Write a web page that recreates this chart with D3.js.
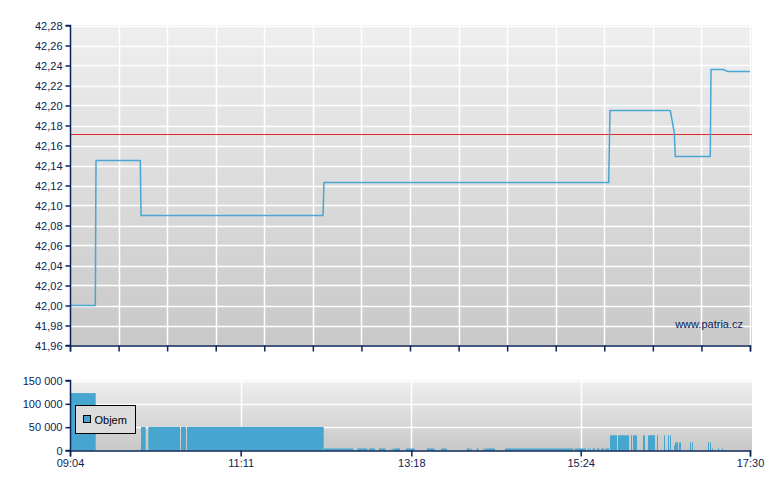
<!DOCTYPE html>
<html>
<head>
<meta charset="utf-8">
<script src="https://cdn.jsdelivr.net/npm/d3@7/dist/d3.min.js"></script>
<style>
  html, body { margin: 0; padding: 0; background: #ffffff; }
  svg { display: block; font-family: "Liberation Sans", Arial, sans-serif; }
</style>
</head>
<body>
<svg id="chart" width="780" height="490"></svg>
<script>
// ---------- DATA ----------
const priceTimes  = ["09:04:00","09:22:50","09:23:21","09:56:19","09:56:50","12:12:16","12:13:00","15:44:52","15:45:49","16:30:42","16:33:40","16:34:24","17:00:27","17:00:59","17:10:09","17:13:24","17:30:00"];
const priceValues = [42.00, 42.00, 42.145, 42.145, 42.09, 42.09, 42.123, 42.123, 42.195, 42.195, 42.173, 42.149, 42.149, 42.236, 42.236, 42.234, 42.234];
const referencePrice = 42.171;

const volStart = ["09:04:00","09:56:50","10:02:16","10:26:36","10:31:04","12:13:00","12:37:34","12:46:29","12:53:56","13:03:23","13:04:52","13:14:01","13:29:39","13:40:04","13:59:12","14:02:23","14:06:38","14:11:19","14:12:35","14:27:41","15:19:47","15:29:14","15:30:56","15:32:57","15:35:56","15:39:08","15:42:20","15:45:49","15:51:47","16:01:27","16:02:56","16:10:23","16:14:06","16:20:48","16:26:00","16:28:59","16:30:28","16:33:27","16:34:11","16:37:10","16:45:21","16:46:50","16:58:45","17:00:14","17:01:43","17:06:11","17:09:10"];
const volEnd   = ["09:23:07","10:00:20","10:25:51","10:30:19","12:12:47","12:34:49","12:45:14","12:50:57","12:58:55","13:04:08","13:09:34","13:20:30","13:35:23","13:44:19","14:01:39","14:03:08","14:08:07","14:11:50","14:20:15","15:18:31","15:27:58","15:30:12","15:31:41","15:34:40","15:37:52","15:41:21","15:45:05","15:51:02","15:59:58","16:02:12","16:05:55","16:11:52","16:19:18","16:21:32","16:26:45","16:29:44","16:31:13","16:34:11","16:36:25","16:38:39","16:46:06","16:47:35","16:59:29","17:00:59","17:02:28","17:06:56","17:09:54"];
const volValues = [123000, 50500, 50500, 50500, 50500, 4300, 4300, 4300, 4300, 4300, 4300, 4300, 4300, 4300, 4300, 4300, 4300, 4300, 4300, 4300, 4300, 4300, 4300, 4300, 4300, 4300, 4300, 32600, 32600, 32600, 32600, 32600, 32600, 32600, 32600, 32600, 32600, 10900, 17400, 17400, 17400, 17400, 17400, 17400, 4300, 4300, 4300];

const priceTicks = [41.96, 41.98, 42.00, 42.02, 42.04, 42.06, 42.08, 42.10, 42.12, 42.14, 42.16, 42.18, 42.20, 42.22, 42.24, 42.26, 42.28];
const volTicks = [0, 50000, 100000, 150000];
const timeTickLabels = ["09:04", "11:11", "13:18", "15:24", "17:30"];
const mainGridDivisions = 14;
const legendLabel = "Objem";
const watermark = "www.patria.cz";

// ---------- SETUP ----------
const parseT = d3.timeParse("%H:%M:%S");
const parseHM = d3.timeParse("%H:%M");
const svg = d3.select("#chart");
const axisColor = "#0b2456";
const lineColor = "#4aa6d2";
const barColor = "#46a6cf";

const L = 70, R = 750;
const mainTop = 25.5, mainBottom = 345.5;
const volTop = 380.5, volBottom = 450.5;

const x = d3.scaleTime().domain([parseT("09:04:00"), parseT("17:30:00")]).range([L, R]);
const yP = d3.scaleLinear().domain([41.96, 42.28]).range([mainBottom, mainTop]);
const yV = d3.scaleLinear().domain([0, 150000]).range([volBottom, volTop]);

// gradients
const defs = svg.append("defs");
function grad(id) {
  const g = defs.append("linearGradient").attr("id", id).attr("x1", 0).attr("y1", 0).attr("x2", 0).attr("y2", 1);
  g.append("stop").attr("offset", "0%").attr("stop-color", "#efefef");
  g.append("stop").attr("offset", "100%").attr("stop-color", "#c8c8c8");
}
grad("gMain"); grad("gVol");

// ---------- MAIN PANEL ----------
svg.append("rect").attr("x", L).attr("y", mainTop - 0.5).attr("width", R - L + 2).attr("height", mainBottom - mainTop + 0.5).attr("fill", "url(#gMain)");

const [d0, d1] = x.domain();
const mainGridTimes = d3.range(mainGridDivisions + 1).map(i => new Date(d0.getTime() + (d1 - d0) * i / mainGridDivisions));

// horizontal grid
svg.append("g").selectAll("line").data(priceTicks).join("line")
  .attr("x1", L).attr("x2", R + 2)
  .attr("y1", d => Math.round(yP(d)) + 0.5).attr("y2", d => Math.round(yP(d)) + 0.5)
  .attr("stroke", "#ffffff").attr("stroke-width", 1.5);
// vertical grid
svg.append("g").selectAll("line").data(mainGridTimes.slice(1)).join("line")
  .attr("x1", d => Math.round(x(d)) + 0.5).attr("x2", d => Math.round(x(d)) + 0.5)
  .attr("y1", mainTop).attr("y2", mainBottom)
  .attr("stroke", "#ffffff").attr("stroke-width", 1.5);

// reference line
svg.append("line").attr("x1", L).attr("x2", R + 2)
  .attr("y1", yP(referencePrice)).attr("y2", yP(referencePrice))
  .attr("stroke", "#e02a2a").attr("stroke-width", 1);

// price line
const priceData = priceTimes.map((t, i) => ({ t: parseT(t), v: priceValues[i] }));
svg.append("path").datum(priceData)
  .attr("d", d3.line().x(d => x(d.t)).y(d => yP(d.v)))
  .attr("fill", "none").attr("stroke", lineColor).attr("stroke-width", 1.5);

// watermark
svg.append("text").attr("x", 743).attr("y", 328).attr("text-anchor", "end")
  .attr("fill", axisColor).attr("font-size", 11).text(watermark);

// axes main
const yAxisMain = d3.axisLeft(yP).tickValues(priceTicks).tickSize(5).tickPadding(3)
  .tickFormat(d => d3.format(".2f")(d).replace(".", ","));
const gYm = svg.append("g").attr("transform", `translate(${L + 0.5},0)`).call(yAxisMain);
const xAxisMain = d3.axisBottom(x).tickValues(mainGridTimes).tickSize(6).tickFormat("");
const gXm = svg.append("g").attr("transform", `translate(0,${mainBottom})`).call(xAxisMain);
[gYm, gXm].forEach(g => {
  g.select(".domain").attr("stroke", axisColor).attr("stroke-width", 1.5);
  g.selectAll(".tick line").attr("stroke", axisColor).attr("stroke-width", 1.5);
  g.selectAll("text").attr("fill", axisColor).attr("font-size", 11).attr("font-family", "Liberation Sans, Arial, sans-serif");
});
gYm.select(".domain").attr("d", `M-5,${mainTop}H0V${mainBottom}H-5`);

// ---------- VOLUME PANEL ----------
svg.append("rect").attr("x", L).attr("y", volTop - 0.5).attr("width", R - L + 2).attr("height", volBottom - volTop + 0.5).attr("fill", "url(#gVol)");

svg.append("g").selectAll("line").data(volTicks.slice(1)).join("line")
  .attr("x1", L).attr("x2", R + 2)
  .attr("y1", d => Math.round(yV(d)) + 0.5).attr("y2", d => Math.round(yV(d)) + 0.5)
  .attr("stroke", "#ffffff").attr("stroke-width", 1.5);
svg.append("g").selectAll("line").data(timeTickLabels.slice(1, -1)).join("line")
  .attr("x1", d => Math.round(x(parseHM(d))) + 0.5).attr("x2", d => Math.round(x(parseHM(d))) + 0.5)
  .attr("y1", volTop).attr("y2", volBottom)
  .attr("stroke", "#ffffff").attr("stroke-width", 1.5);

const volData = volStart.map((s, i) => ({ s: parseT(s), e: parseT(volEnd[i]), v: volValues[i] }));
svg.append("g").selectAll("rect").data(volData).join("rect")
  .attr("x", d => x(d.s))
  .attr("width", d => Math.max(1, x(d.e) - x(d.s)))
  .attr("y", d => yV(d.v))
  .attr("height", d => yV(0) - yV(d.v))
  .attr("fill", barColor);

// legend
const lg = svg.append("g").attr("transform", "translate(75.5,405.5)");
lg.append("rect").attr("width", 60).attr("height", 28).attr("fill", "#dcdcdc").attr("stroke", "#000").attr("stroke-width", 1);
lg.append("rect").attr("x", 8).attr("y", 10).attr("width", 7).attr("height", 7).attr("fill", barColor).attr("stroke", "#000").attr("stroke-width", 1);
lg.append("text").attr("x", 19).attr("y", 18.5).attr("font-size", 11).attr("fill", "#000").text(legendLabel);

const yAxisVol = d3.axisLeft(yV).tickValues(volTicks).tickSize(5).tickPadding(3)
  .tickFormat(d => d3.format(",")(d).replace(/,/g, " "));
const gYv = svg.append("g").attr("transform", `translate(${L + 0.5},0)`).call(yAxisVol);
const xAxisVol = d3.axisBottom(x).tickValues(timeTickLabels.map(parseHM)).tickSize(6).tickPadding(3)
  .tickFormat(d3.timeFormat("%H:%M"));
const gXv = svg.append("g").attr("transform", `translate(0,${volBottom})`).call(xAxisVol);
[gYv, gXv].forEach(g => {
  g.select(".domain").attr("stroke", axisColor).attr("stroke-width", 1.5);
  g.selectAll(".tick line").attr("stroke", axisColor).attr("stroke-width", 1.5);
  g.selectAll("text").attr("fill", axisColor).attr("font-size", 11).attr("font-family", "Liberation Sans, Arial, sans-serif");
});
gYv.select(".domain").attr("d", `M-5,${volTop}H0V${volBottom}H-5`);
</script>
</body>
</html>
